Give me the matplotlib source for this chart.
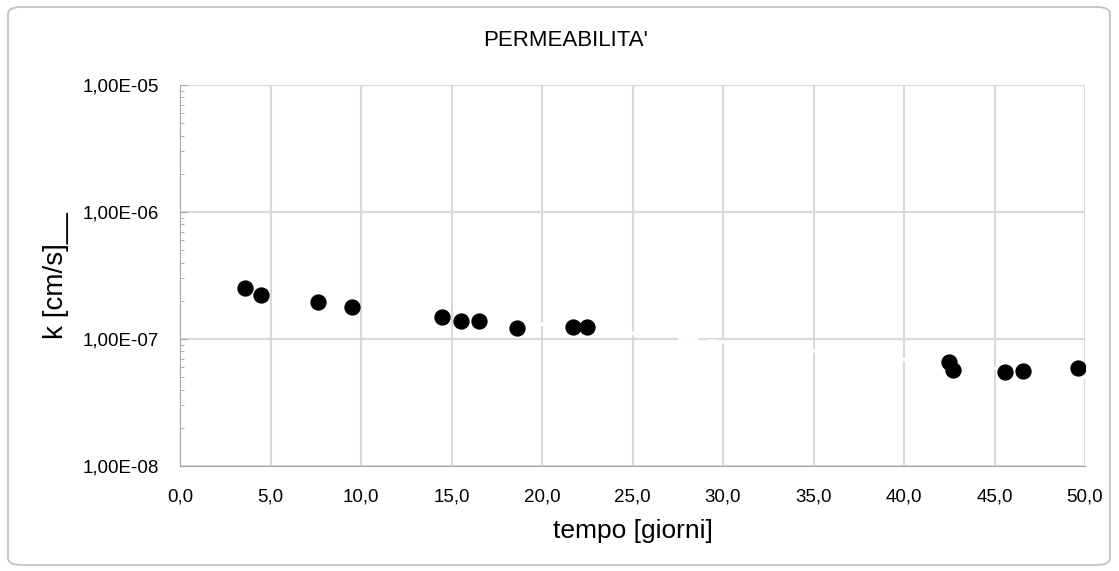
import numpy as np
import matplotlib
matplotlib.use("Agg")
import matplotlib.pyplot as plt
from matplotlib.patches import FancyBboxPatch
from matplotlib.ticker import FixedLocator, FuncFormatter, LogLocator, NullFormatter
from matplotlib import font_manager

names = {f.name for f in font_manager.fontManager.ttflist}
FONT = "Liberation Sans Narrow" if "Liberation Sans Narrow" in names else "Liberation Sans"
plt.rcParams['font.family'] = [FONT, 'DejaVu Sans']

title = "PERMEABILITA'"
xlabel = "tempo [giorni]"
ylabel = "k [cm/s]__"

tempo = [3.6, 4.5, 7.6, 9.5, 14.5, 15.5, 16.5, 18.6, 21.7, 22.5, 42.5, 42.7, 45.6, 46.6, 49.6]
k = [2.52e-7, 2.22e-7, 1.96e-7, 1.79e-7, 1.49e-7, 1.39e-7, 1.39e-7, 1.22e-7,
     1.24e-7, 1.24e-7, 6.6e-8, 5.7e-8, 5.5e-8, 5.6e-8, 5.9e-8]
xticks = [0, 5, 10, 15, 20, 25, 30, 35, 40, 45, 50]
yticks = [1e-8, 1e-7, 1e-6, 1e-5]

fig = plt.figure(figsize=(11.19, 5.71), dpi=100)
border = FancyBboxPatch((8/1119, 6/571), 1102/1119, 558/571,
                        boxstyle="round,pad=0,rounding_size=0.012",
                        transform=fig.transFigure, fc="none", ec="#bfbfbf", lw=1.2, zorder=5)
fig.patches.append(border)

ax = fig.add_axes([180/1119, 1 - 466/571, 905/1119, 381/571])
ax.set_yscale('log')
ax.set_xlim(0, 50)
ax.set_ylim(1e-8, 1e-5)

gc = "#d9d9d9"
ax.grid(True, which='major', color=gc, lw=1.5)
ax.set_axisbelow(True)
for s in ['top', 'right']:
    ax.spines[s].set_visible(False)
ax.spines['left'].set_color("#a6a6a6")
ax.spines['bottom'].set_color("#a6a6a6")

ax.xaxis.set_major_locator(FixedLocator(xticks))
ax.xaxis.set_major_formatter(FuncFormatter(lambda v, p: f"{v:.1f}".replace('.', ',')))
ax.yaxis.set_major_locator(FixedLocator(yticks))
ax.yaxis.set_major_formatter(FuncFormatter(lambda v, p: ("%.2E" % v).replace('.', ',')))
ax.yaxis.set_minor_locator(LogLocator(base=10, subs=np.arange(2, 10)))
ax.yaxis.set_minor_formatter(NullFormatter())
ax.tick_params(axis='x', length=0, labelsize=13.5, pad=16, colors='#000000')
ax.tick_params(axis='y', which='major', direction='in', length=5, color='#a6a6a6',
               labelsize=13.5, pad=15, labelcolor='#000000')
ax.tick_params(axis='y', which='minor', direction='in', length=3, color='#a6a6a6')

# trendline (exponential fit), drawn in white as in the reference
coef = np.polyfit(tempo, np.log10(k), 1)
xt = np.linspace(0, 50, 200)
ax.plot(xt, 10 ** np.polyval(coef, xt), color='white', lw=2.5, ls=(0, (6, 3)), zorder=2)

ax.scatter(tempo, k, s=115, color='black', zorder=3)

ax.set_xlabel(xlabel, fontsize=19, labelpad=10)
ax.set_ylabel(ylabel, fontsize=20, labelpad=10)
fig.text(566/1119, 1 - 40/571, title, ha='center', va='center', fontsize=16)

fig.savefig("out.png", dpi=100)
